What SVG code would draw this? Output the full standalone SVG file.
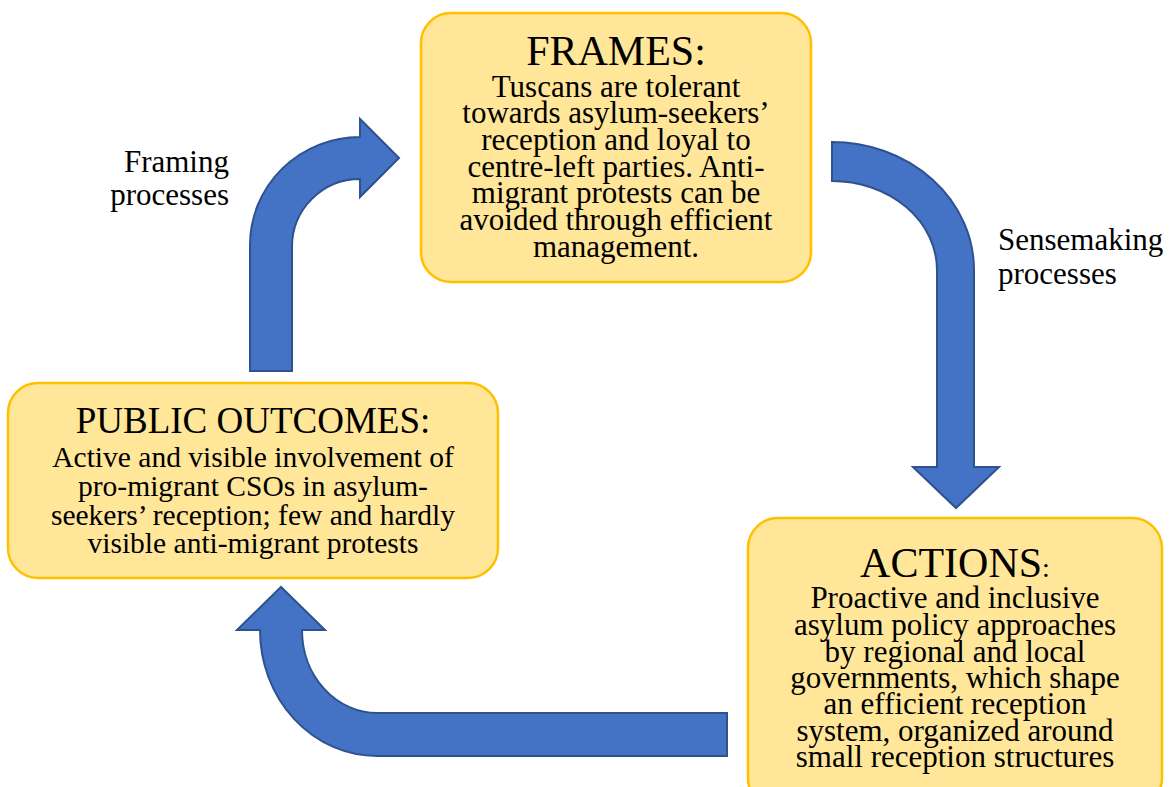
<svg xmlns="http://www.w3.org/2000/svg" width="1173" height="787" viewBox="0 0 1173 787">
<style>
.box{fill:#FFE699;stroke:#FFC000;stroke-width:2.5}
.arr{fill:#4472C4;stroke:#2F528F;stroke-width:2;stroke-linejoin:miter}
text{font-family:"Liberation Serif","Times New Roman",serif;fill:#000}
.title{font-size:42px;text-anchor:middle}
.body{font-size:31px;text-anchor:middle}
.lbl{font-size:31px}
</style>
<rect width="1173" height="787" fill="#fff"/>
<g id="connectors">
<path class="arr" d="M 250 371 L 250 245 A 110 108 0 0 1 360 137 L 360 119 L 399 158 L 360 197 L 360 179 A 68 68 0 0 0 292 247 L 292 371 Z"/>
<path class="arr" d="M 832 142 A 142 128 0 0 1 974 270 L 974 467 L 999 467 L 956 508 L 913 467 L 937 467 L 937 270 A 105 89 0 0 0 832 181 Z"/>
<path class="arr" d="M 727 713 L 727 756 L 377 756 A 117 126 0 0 1 260 630 L 237 630 L 281 587 L 325 630 L 302 630 A 75 83 0 0 0 377 713 Z"/>
<text class="lbl" text-anchor="end" x="229" y="172">Framing</text>
<text class="lbl" text-anchor="end" x="229" y="205">processes</text>
<text class="lbl" x="998" y="250">Sensemaking</text>
<text class="lbl" x="998" y="284">processes</text>
</g>
<g id="frames">
<rect class="box" x="421" y="13" width="390" height="269" rx="30"/>
<text class="title" x="616" y="65">FRAMES:</text>
<text class="body" x="616" y="97">Tuscans are tolerant</text>
<text class="body" x="616" y="123">towards asylum-seekers’</text>
<text class="body" x="616" y="150">reception and loyal to</text>
<text class="body" x="616" y="177">centre-left parties. Anti-</text>
<text class="body" x="616" y="203">migrant protests can be</text>
<text class="body" x="616" y="230">avoided through efficient</text>
<text class="body" x="616" y="257">management.</text>
</g>
<g id="public-outcomes">
<rect class="box" x="8" y="383" width="490" height="195" rx="30"/>
<text class="title" x="253" y="433" style="font-size:37px">PUBLIC OUTCOMES:</text>
<text class="body" x="253" y="467" style="font-size:29.5px">Active and visible involvement of</text>
<text class="body" x="253" y="496" style="font-size:29.5px">pro-migrant CSOs in asylum-</text>
<text class="body" x="253" y="525" style="font-size:29.5px">seekers’ reception; few and hardly</text>
<text class="body" x="253" y="553" style="font-size:29.5px">visible anti-migrant protests</text>
</g>
<g id="actions">
<rect class="box" x="748" y="518" width="414" height="290" rx="30"/>
<text class="title" x="955" y="577">ACTIONS<tspan style="font-size:28px">:</tspan></text>
<text class="body" x="955" y="608">Proactive and inclusive</text>
<text class="body" x="955" y="635">asylum policy approaches</text>
<text class="body" x="955" y="662">by regional and local</text>
<text class="body" x="955" y="688">governments, which shape</text>
<text class="body" x="955" y="714">an efficient reception</text>
<text class="body" x="955" y="741">system, organized around</text>
<text class="body" x="955" y="767">small reception structures</text>
</g>
</svg>
